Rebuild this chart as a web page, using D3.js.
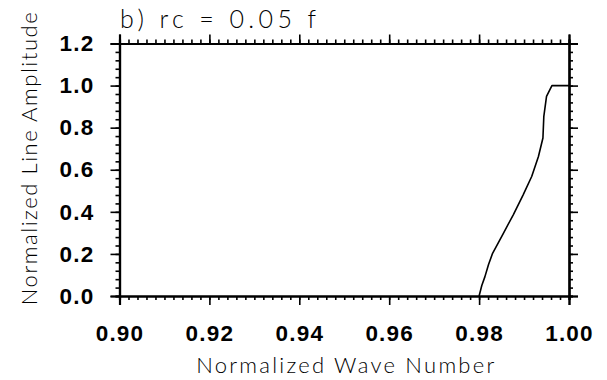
<!DOCTYPE html>
<html>
<head>
<meta charset="utf-8">
<script src="https://cdn.jsdelivr.net/npm/d3@7"></script>
<style>
  body { margin: 0; background: #fff; }
  svg { display: block; }
</style>
</head>
<body>
<svg id="chart" width="607" height="380"></svg>
<script>
// values
const waveNumber = [0.98, 0.9806, 0.9813, 0.9821, 0.9830, 0.9854, 0.9876, 0.9898, 0.9917, 0.9932, 0.9942, 0.9944, 0.9950, 0.9962, 1.0];
const amplitude  = [0.0, 0.050, 0.092, 0.150, 0.203, 0.298, 0.386, 0.481, 0.568, 0.663, 0.751, 0.854, 0.949, 1.0, 1.0];

const xMajor = [0.90, 0.92, 0.94, 0.96, 0.98, 1.00];
const yMajor = [0.0, 0.2, 0.4, 0.6, 0.8, 1.0, 1.2];
const xMinor = d3.range(0, 51).map(i => 0.9 + i * 0.002);
const yMinor = d3.range(0, 31).map(i => i * 0.04);

const titleText = "b) rc = 0.05 f";
const xTitle = "Normalized Wave Number";
const yTitle = "Normalized Line Amplitude";

const margin = { left: 119.5, right: 38, top: 43.5, bottom: 84 };
const W = 607, H = 380;

const svg = d3.select("#chart");

const x = d3.scaleLinear().domain([0.9, 1.0]).range([margin.left, W - margin.right]);
const y = d3.scaleLinear().domain([0, 1.2]).range([H - margin.bottom, margin.top]);

// curve
const line = d3.line().x((d, i) => x(waveNumber[i])).y((d, i) => y(amplitude[i]));
svg.append("path")
  .datum(waveNumber)
  .attr("d", line)
  .attr("fill", "none")
  .attr("stroke", "black")
  .attr("stroke-width", 1.6)
  .attr("stroke-linejoin", "round");

// axes : major + minor, ticks outward on all sides
function drawAxis(axisFn, scale, translate, major, minor, pad) {
  const gMin = svg.append("g").attr("transform", translate)
    .call(axisFn(scale).tickValues(minor).tickSize(4).tickFormat(""));
  const gMaj = svg.append("g").attr("transform", translate)
    .call(axisFn(scale).tickValues(major).tickSize(9).tickPadding(pad)
      .tickFormat(pad ? d3.format(".2f") : ""));
  [gMin, gMaj].forEach(g => {
    g.selectAll(".domain").attr("stroke", "black").attr("stroke-width", 2.2);
    g.selectAll(".tick line").attr("stroke", "black").attr("stroke-width", 1.6);
  });
  return gMaj;
}

const labelFont = "'Liberation Sans', Arial, sans-serif";
const titleFont = "Lato, 'DejaVu Sans', sans-serif";

const gx = drawAxis(d3.axisBottom, x, `translate(0,${y(0)})`, xMajor, xMinor, 20);
gx.selectAll("text")
  .attr("font-family", labelFont)
  .attr("font-weight", "bold")
  .attr("font-size", 22.5)
  .attr("letter-spacing", 1.2)
  .attr("fill", "black");

drawAxis(d3.axisTop, x, `translate(0,${y(1.2)})`, xMajor, xMinor, 0);

const gy = drawAxis(d3.axisLeft, y, `translate(${x(0.9)},0)`, yMajor, yMinor, 16);
gy.selectAll("text")
  .text(d => d3.format(".1f")(d))
  .attr("font-family", labelFont)
  .attr("font-weight", "bold")
  .attr("font-size", 22.5)
  .attr("letter-spacing", 1.2)
  .attr("fill", "black");

drawAxis(d3.axisRight, y, `translate(${x(1.0)},0)`, yMajor, yMinor, 0);

// titles
svg.append("text")
  .attr("x", 120).attr("y", 28)
  .attr("font-family", titleFont)
  .attr("font-weight", 300)
  .attr("font-size", 25)
  .attr("textLength", 196)
  .attr("fill", "black")
  .text(titleText);

svg.append("text")
  .attr("x", (x(0.9) + x(1.0)) / 2 + 1).attr("y", 373)
  .attr("text-anchor", "middle")
  .attr("font-family", titleFont)
  .attr("font-weight", 300)
  .attr("font-size", 22)
  .attr("textLength", 298)
  .attr("fill", "black")
  .text(xTitle);

svg.append("text")
  .attr("transform", `translate(37,${(y(0) + y(1.2)) / 2 - 11}) rotate(-90)`)
  .attr("text-anchor", "middle")
  .attr("font-family", titleFont)
  .attr("font-weight", 300)
  .attr("font-size", 22)
  .attr("textLength", 293)
  .attr("fill", "black")
  .text(yTitle);
</script>
</body>
</html>
